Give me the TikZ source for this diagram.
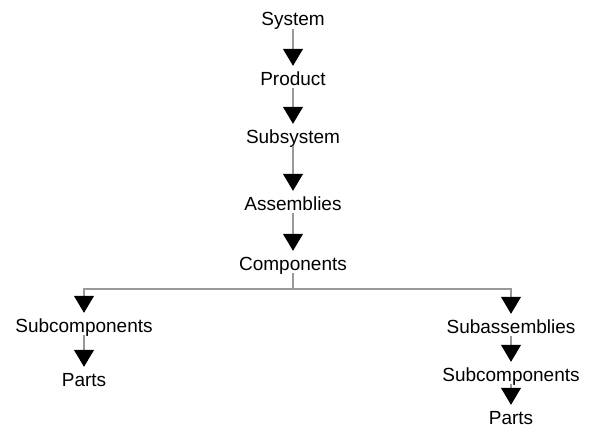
\documentclass[tikz,border=0pt]{standalone}
\usepackage{fontspec}
\setmainfont{Liberation Sans}
\usetikzlibrary{arrows.meta}

\tikzset{
  level/.style={font=\fontsize{19}{21}\selectfont, inner sep=0pt,
    text height=13pt, text depth=3pt},
  wire/.style={draw=black!40, line width=1.1pt},
  link/.style={wire, -{Triangle[width=20pt,length=17pt,color=black]},
    shorten >=6pt},
}

\begin{document}
\begin{tikzpicture}[x=1pt,y=-1pt]
\useasboundingbox (0,0) rectangle (589,428);

% main chain
\node[level] (system)     at (293,21)  {System};
\node[level] (product)    at (293,80)  {Product};
\node[level] (subsystem)  at (293,138) {Subsystem};
\node[level] (assemblies) at (293,205) {Assemblies};
\node[level] (components) at (293,265) {Components};

% left branch
\node[level] (subcompA)   at (84,327)  {Subcomponents};
\node[level] (partsA)     at (84,381)  {Parts};

% right branch
\node[level] (subassem)   at (511,328) {Subassemblies};
\node[level] (subcompB)   at (511,376) {Subcomponents};
\node[level] (partsB)     at (511,419) {Parts};

\coordinate (split) at (293,289);

\draw[link] (system) -- (product);
\draw[link] (product) -- (subsystem);
\draw[link] (subsystem) -- (assemblies);
\draw[link] (assemblies) -- (components);

\draw[wire] (components) -- (split);
\draw[link] (split) -| (subcompA);
\draw[link] (split) -| (subassem);

\draw[link] (subcompA) -- (partsA);
\draw[link] (subassem) -- (subcompB);
\draw[link] (subcompB) -- (partsB);
\end{tikzpicture}
\end{document}
